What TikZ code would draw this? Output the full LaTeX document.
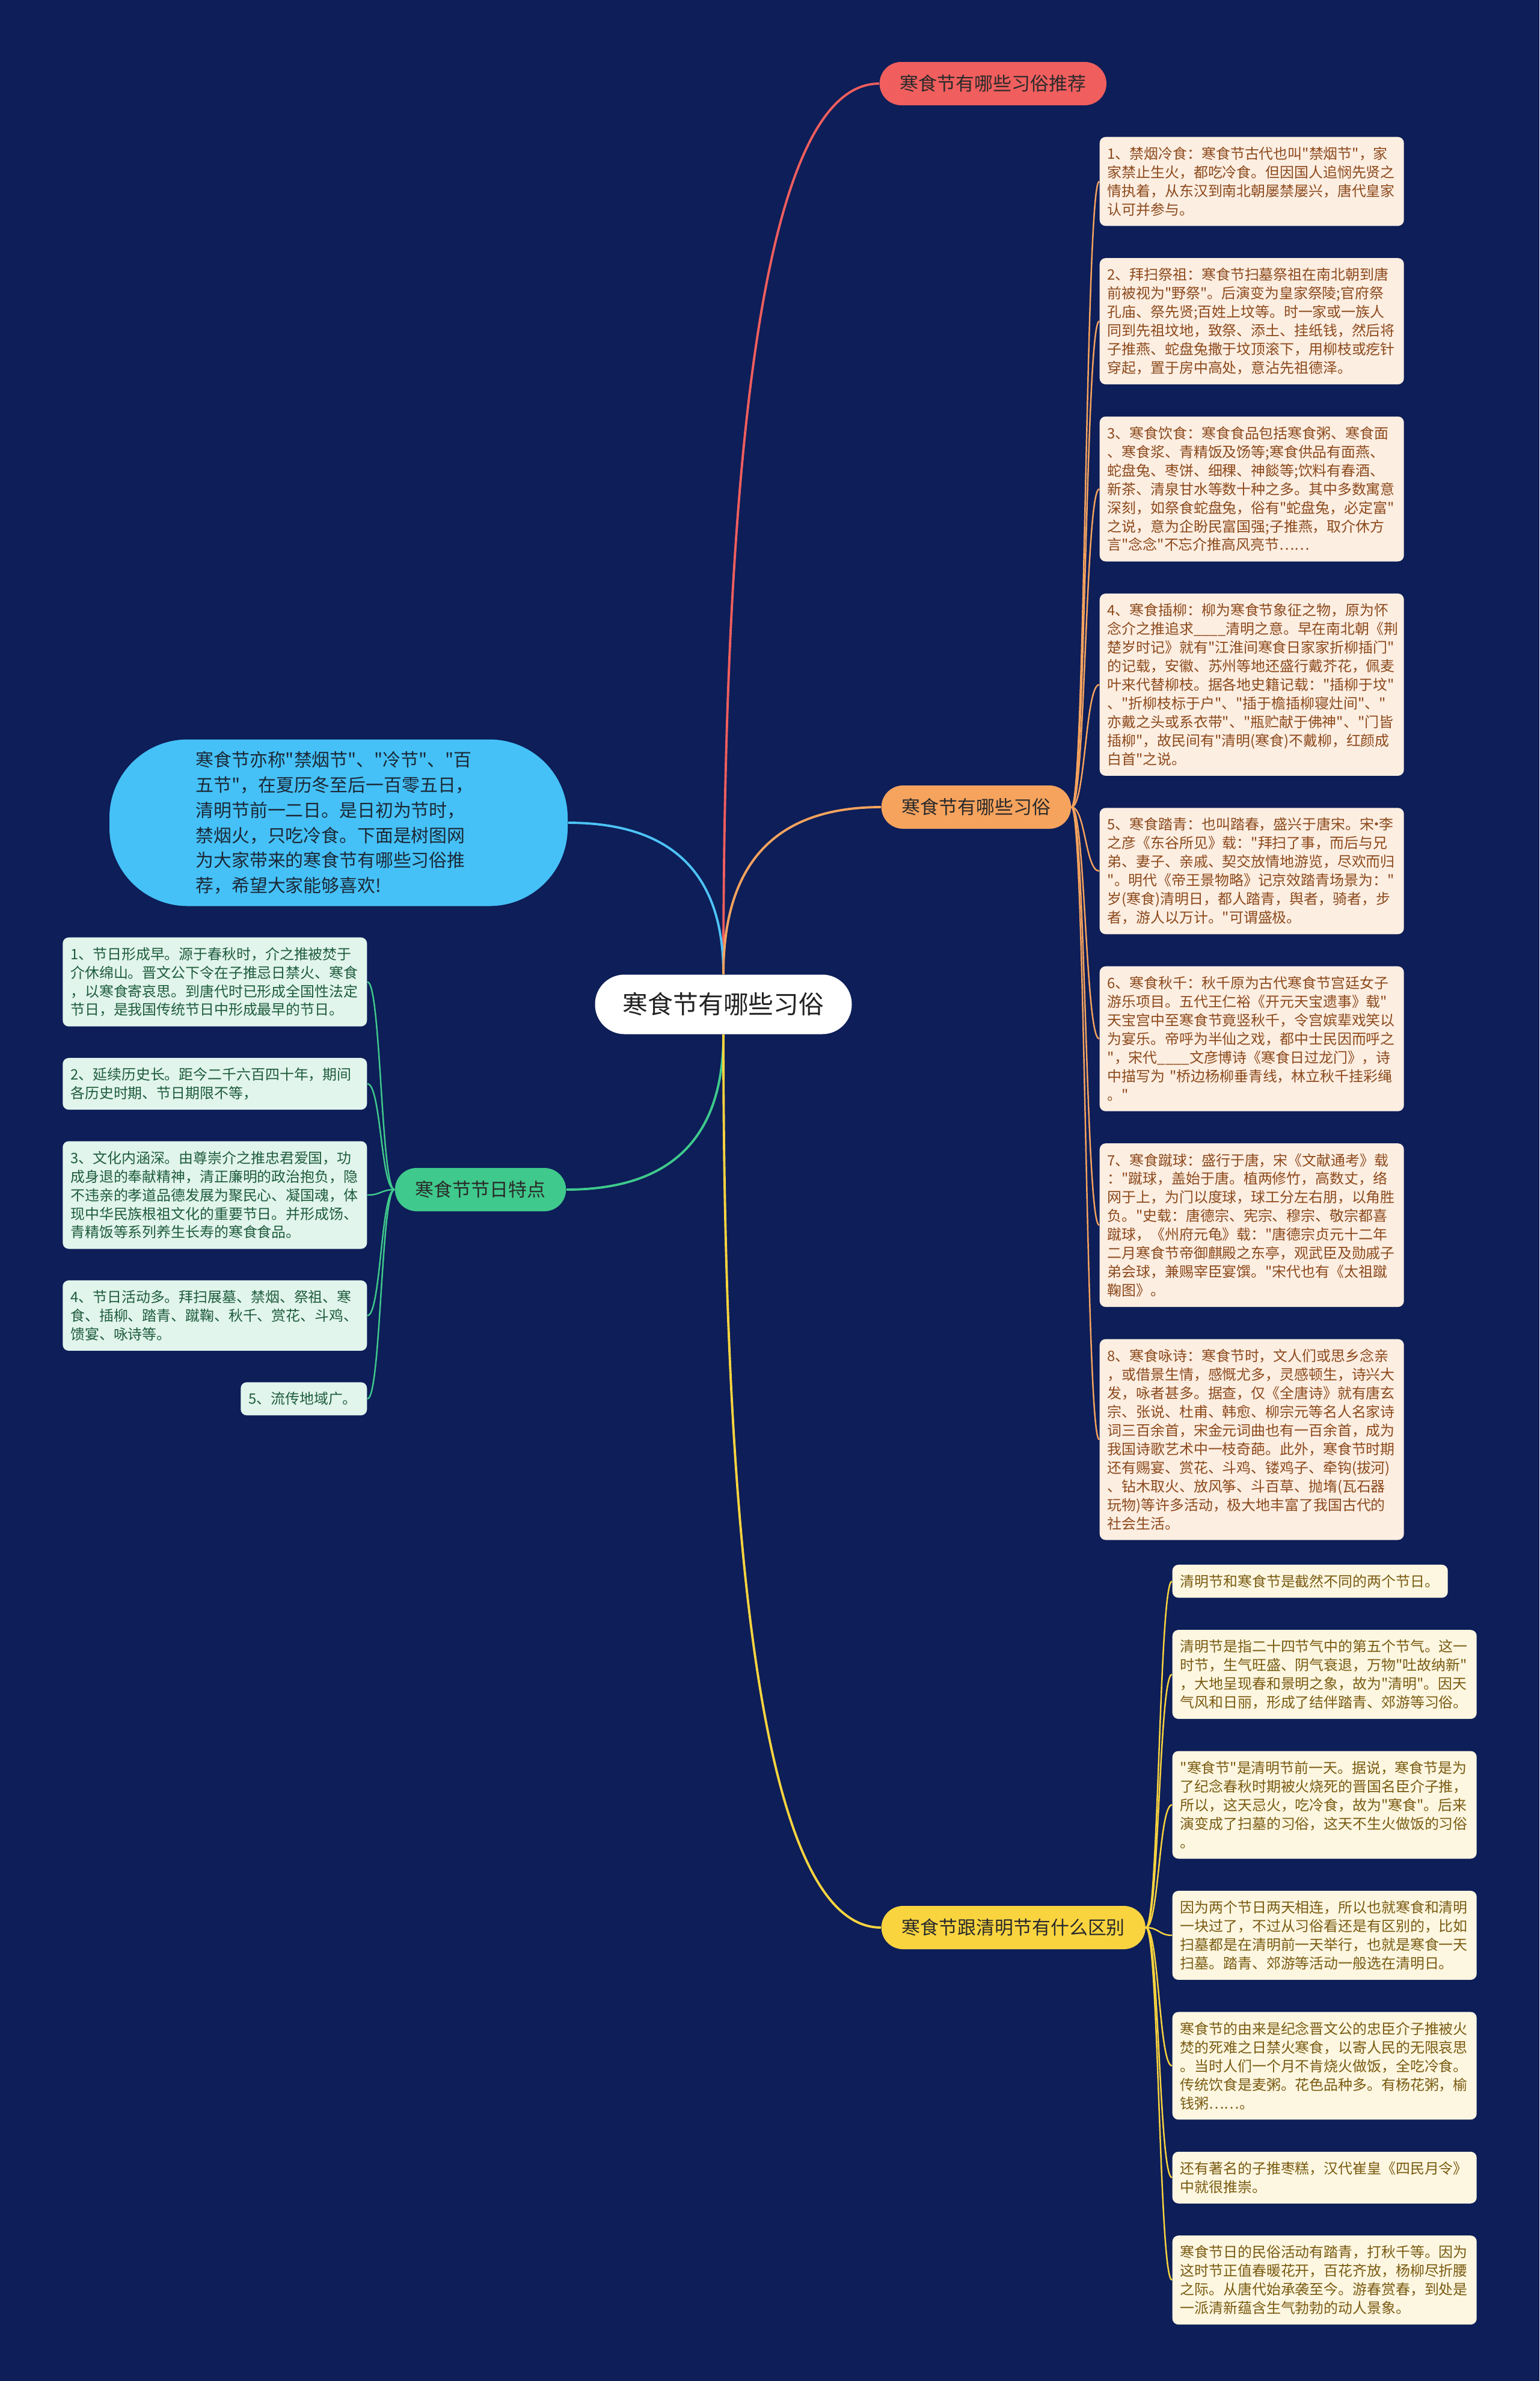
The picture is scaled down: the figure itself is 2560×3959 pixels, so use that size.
\documentclass[tikz,border=0pt]{standalone}
\usepackage{fontspec}
\newfontfamily\cjk{Noto Sans CJK SC}
\usetikzlibrary{positioning, calc}
\definecolor{bgnavy}{HTML}{0D1E58}
\definecolor{rootink}{HTML}{222222}
\definecolor{introfill}{HTML}{45C1F7}
\definecolor{introink}{HTML}{1B2836}
\definecolor{topicink}{HTML}{2A2A2A}
\definecolor{redhue}{HTML}{F05E5E}
\definecolor{orangehue}{HTML}{F6A35E}
\definecolor{greenhue}{HTML}{3FC98C}
\definecolor{yellowhue}{HTML}{F9D43F}
\definecolor{bluehue}{HTML}{4DC3F5}
\definecolor{oleaffill}{HTML}{FDEEE2}
\definecolor{oleafink}{HTML}{8C4A1C}
\definecolor{gleaffill}{HTML}{E1F5EC}
\definecolor{gleafink}{HTML}{1F5C3D}
\definecolor{yleaffill}{HTML}{FDF7E1}
\definecolor{yleafink}{HTML}{7A5B12}
\newcommand{\middot}{\makebox[0.35em]{·}}
\tikzset{
  rootnode/.style={rectangle, rounded corners=4.9mm, fill=white, minimum width=42.7mm,
    minimum height=9.9mm, font=\cjk\fontsize{11.9}{14}\selectfont, text=rootink},
  introbox/.style={rectangle, rounded corners=13mm, fill=introfill, minimum width=76.2mm,
    minimum height=27.7mm, text width=47.5mm, align=left,
    font=\cjk\fontsize{8.5}{11.9}\selectfont, text=introink},
  topicpill/.style={rectangle, rounded corners=3.6mm, minimum height=7.2mm, inner xsep=3.4mm,
    font=\cjk\fontsize{8.8}{10}\selectfont, text=topicink},
  leafbox/.style={rectangle, rounded corners=1mm, inner xsep=1.3mm, inner ysep=0.5mm,
    text width=48mm, align=left, font=\cjk\fontsize{6.8}{8.8}\selectfont,
    minimum height=#1*3.1mm+2.4mm},
  oleaf/.style={leafbox=#1, fill=oleaffill, text=oleafink},
  gleaf/.style={leafbox=#1, fill=gleaffill, text=gleafink},
  yleaf/.style={leafbox=#1, fill=yleaffill, text=yleafink},
  branchline/.style={line width=1.1pt, to path={.. controls
    ($(\tikztostart)!.667!(\tikztostart |- \tikztotarget)$) and
    ($(\tikztotarget)!.667!(\tikztostart |- \tikztotarget)$) .. (\tikztotarget)}},
  twigline/.style={line width=0.7pt, to path={.. controls
    ($(\tikztostart)!.5!(\tikztostart -| \tikztotarget)$) and
    ($(\tikztotarget)!.5!(\tikztotarget -| \tikztostart)$) .. (\tikztotarget)}},
}

\begin{document}
\begin{tikzpicture}[x=0.1mm, y=-0.1mm]
        \useasboundingbox (0,0) rectangle (2560,3959);
        \fill[bgnavy] (0,0) rectangle (2560,3959);
        \node[rootnode] (root) at (1203,1670) {寒食节有哪些习俗};
        \node[introbox] (intro) at (563,1368) {寒食节亦称"禁烟节"、"冷节"、"百\\五节"，在夏历冬至后一百零五日，\\清明节前一二日。是日初为节时，\\禁烟火，只吃冷食。下面是树图网\\为大家带来的寒食节有哪些习俗推\\荐，希望大家能够喜欢!};
        \node[topicpill, fill=redhue, anchor=west] (tuijian) at (1462,139) {寒食节有哪些习俗推荐};
        \node[topicpill, fill=orangehue, anchor=west] (xisu) at (1465,1342) {寒食节有哪些习俗};
        \node[topicpill, fill=greenhue, anchor=east] (tedian) at (942,1978) {寒食节节日特点};
        \node[topicpill, fill=yellowhue, anchor=west] (qubie) at (1465,3205) {寒食节跟清明节有什么区别};

        \node[oleaf=4, anchor=north west] (xisu1) at (1828,227) {1、禁烟冷食：寒食节古代也叫"禁烟节"，家\\家禁止生火，都吃冷食。但因国人追悯先贤之\\情执着，从东汉到南北朝屡禁屡兴，唐代皇家\\认可并参与。};
        \node[oleaf=6, below=5.2mm of xisu1] (xisu2) {2、拜扫祭祖：寒食节扫墓祭祖在南北朝到唐\\前被视为"野祭"。后演变为皇家祭陵;官府祭\\孔庙、祭先贤;百姓上坟等。时一家或一族人\\同到先祖坟地，致祭、添土、挂纸钱，然后将\\子推燕、蛇盘兔撒于坟顶滚下，用柳枝或疙针\\穿起，置于房中高处，意沾先祖德泽。};
        \node[oleaf=7, below=5.2mm of xisu2] (xisu3) {3、寒食饮食：寒食食品包括寒食粥、寒食面\\、寒食浆、青精饭及饧等;寒食供品有面燕、\\蛇盘兔、枣饼、细稞、神餤等;饮料有春酒、\\新茶、清泉甘水等数十种之多。其中多数寓意\\深刻，如祭食蛇盘兔，俗有"蛇盘兔，必定富"\\之说，意为企盼民富国强;子推燕，取介休方\\言"念念"不忘介推高风亮节……};
        \node[oleaf=9, below=5.2mm of xisu3] (xisu4) {4、寒食插柳：柳为寒食节象征之物，原为怀\\念介之推追求\_\_\_\_清明之意。早在南北朝《荆\\楚岁时记》就有"江淮间寒食日家家折柳插门"\\的记载，安徽、苏州等地还盛行戴芥花，佩麦\\叶来代替柳枝。据各地史籍记载："插柳于坟"\\、"折柳枝标于户"、"插于檐插柳寝灶间"、"\\亦戴之头或系衣带"、"瓶贮献于佛神"、"门皆\\插柳"，故民间有"清明(寒食)不戴柳，红颜成\\白首"之说。};
        \node[oleaf=6, below=5.2mm of xisu4] (xisu5) {5、寒食踏青：也叫踏春，盛兴于唐宋。宋\middot 李\\之彦《东谷所见》载："拜扫了事，而后与兄\\弟、妻子、亲戚、契交放情地游览，尽欢而归\\"。明代《帝王景物略》记京效踏青场景为："\\岁(寒食)清明日，都人踏青，舆者，骑者，步\\者，游人以万计。"可谓盛极。};
        \node[oleaf=7, below=5.2mm of xisu5] (xisu6) {6、寒食秋千：秋千原为古代寒食节宫廷女子\\游乐项目。五代王仁裕《开元天宝遗事》载"\\天宝宫中至寒食节竟竖秋千，令宫嫔辈戏笑以\\为宴乐。帝呼为半仙之戏，都中士民因而呼之\\"，宋代\_\_\_\_文彦博诗《寒食日过龙门》，诗\\中描写为~"桥边杨柳垂青线，林立秋千挂彩绳\\。"};
        \node[oleaf=8, below=5.2mm of xisu6] (xisu7) {7、寒食蹴球：盛行于唐，宋《文献通考》载\\："蹴球，盖始于唐。植两修竹，高数丈，络\\网于上，为门以度球，球工分左右朋，以角胜\\负。"史载：唐德宗、宪宗、穆宗、敬宗都喜\\蹴球，《州府元龟》载："唐德宗贞元十二年\\二月寒食节帝御麒殿之东亭，观武臣及勋戚子\\弟会球，兼赐宰臣宴馔。"宋代也有《太祖蹴\\鞠图》。};
        \node[oleaf=10, below=5.2mm of xisu7] (xisu8) {8、寒食咏诗：寒食节时，文人们或思乡念亲\\，或借景生情，感慨尤多，灵感顿生，诗兴大\\发，咏者甚多。据查，仅《全唐诗》就有唐玄\\宗、张说、杜甫、韩愈、柳宗元等名人名家诗\\词三百余首，宋金元词曲也有一百余首，成为\\我国诗歌艺术中一枝奇葩。此外，寒食节时期\\还有赐宴、赏花、斗鸡、镂鸡子、牵钩(拔河)\\、钻木取火、放风筝、斗百草、抛堶(瓦石器\\玩物)等许多活动，极大地丰富了我国古代的\\社会生活。};

        \node[gleaf=4, anchor=north east] (tedian1) at (611,1558) {1、节日形成早。源于春秋时，介之推被焚于\\介休绵山。晋文公下令在子推忌日禁火、寒食\\，以寒食寄哀思。到唐代时已形成全国性法定\\节日，是我国传统节日中形成最早的节日。};
        \node[gleaf=2, below=5.1mm of tedian1] (tedian2) {2、延续历史长。距今二千六百四十年，期间\\各历史时期、节日期限不等，};
        \node[gleaf=5, below=5.1mm of tedian2] (tedian3) {3、文化内涵深。由尊崇介之推忠君爱国，功\\成身退的奉献精神，清正廉明的政治抱负，隐\\不违亲的孝道品德发展为聚民心、凝国魂，体\\现中华民族根祖文化的重要节日。并形成饧、\\青精饭等系列养生长寿的寒食食品。};
        \node[gleaf=3, below=5.1mm of tedian3] (tedian4) {4、节日活动多。拜扫展墓、禁烟、祭祖、寒\\食、插柳、踏青、蹴鞠、秋千、赏花、斗鸡、\\馈宴、咏诗等。};
        \node[gleaf=1, text width=18.4mm, below=5.1mm of tedian4.south east, anchor=north east] (tedian5) {5、流传地域广。};

        \node[yleaf=1, text width=43.2mm, anchor=north west] (qubie1) at (1949,2601) {清明节和寒食节是截然不同的两个节日。};
        \node[yleaf=4, below=5.2mm of qubie1.south west, anchor=north west] (qubie2) {清明节是指二十四节气中的第五个节气。这一\\时节，生气旺盛、阴气衰退，万物"吐故纳新"\\，大地呈现春和景明之象，故为"清明"。因天\\气风和日丽，形成了结伴踏青、郊游等习俗。};
        \node[yleaf=5, below=5.2mm of qubie2] (qubie3) {"寒食节"是清明节前一天。据说，寒食节是为\\了纪念春秋时期被火烧死的晋国名臣介子推，\\所以，这天忌火，吃冷食，故为"寒食"。后来\\演变成了扫墓的习俗，这天不生火做饭的习俗\\。};
        \node[yleaf=4, below=5.2mm of qubie3] (qubie4) {因为两个节日两天相连，所以也就寒食和清明\\一块过了，不过从习俗看还是有区别的，比如\\扫墓都是在清明前一天举行，也就是寒食一天\\扫墓。踏青、郊游等活动一般选在清明日。};
        \node[yleaf=5, below=5.2mm of qubie4] (qubie5) {寒食节的由来是纪念晋文公的忠臣介子推被火\\焚的死难之日禁火寒食，以寄人民的无限哀思\\。当时人们一个月不肯烧火做饭，全吃冷食。\\传统饮食是麦粥。花色品种多。有杨花粥，榆\\钱粥……。};
        \node[yleaf=2, below=5.2mm of qubie5] (qubie6) {还有著名的子推枣糕，汉代崔皇《四民月令》\\中就很推崇。};
        \node[yleaf=4, below=5.2mm of qubie6] (qubie7) {寒食节日的民俗活动有踏青，打秋千等。因为\\这时节正值春暖花开，百花齐放，杨柳尽折腰\\之际。从唐代始承袭至今。游春赏春，到处是\\一派清新蕴含生气勃勃的动人景象。};

        \draw[branchline, redhue] (root.north) to (tuijian.west);
        \draw[branchline, bluehue] (root.north) to (intro.east);
        \draw[branchline, orangehue] (root.north) to (xisu.west);
        \draw[branchline, greenhue] (root.south) to (tedian.east);
        \draw[branchline, yellowhue] (root.south) to (qubie.west);

        \draw[twigline, orangehue] (xisu.east) to (xisu1.west);
        \draw[twigline, orangehue] (xisu.east) to (xisu2.west);
        \draw[twigline, orangehue] (xisu.east) to (xisu3.west);
        \draw[twigline, orangehue] (xisu.east) to (xisu4.west);
        \draw[twigline, orangehue] (xisu.east) to (xisu5.west);
        \draw[twigline, orangehue] (xisu.east) to (xisu6.west);
        \draw[twigline, orangehue] (xisu.east) to (xisu7.west);
        \draw[twigline, orangehue] (xisu.east) to (xisu8.west);

        \draw[twigline, greenhue] (tedian.west) to (tedian1.east);
        \draw[twigline, greenhue] (tedian.west) to (tedian2.east);
        \draw[twigline, greenhue] (tedian.west) to (tedian3.east);
        \draw[twigline, greenhue] (tedian.west) to (tedian4.east);
        \draw[twigline, greenhue] (tedian.west) to (tedian5.east);

        \draw[twigline, yellowhue] (qubie.east) to (qubie1.west);
        \draw[twigline, yellowhue] (qubie.east) to (qubie2.west);
        \draw[twigline, yellowhue] (qubie.east) to (qubie3.west);
        \draw[twigline, yellowhue] (qubie.east) to (qubie4.west);
        \draw[twigline, yellowhue] (qubie.east) to (qubie5.west);
        \draw[twigline, yellowhue] (qubie.east) to (qubie6.west);
        \draw[twigline, yellowhue] (qubie.east) to (qubie7.west);
      \end{tikzpicture}
\end{document}
